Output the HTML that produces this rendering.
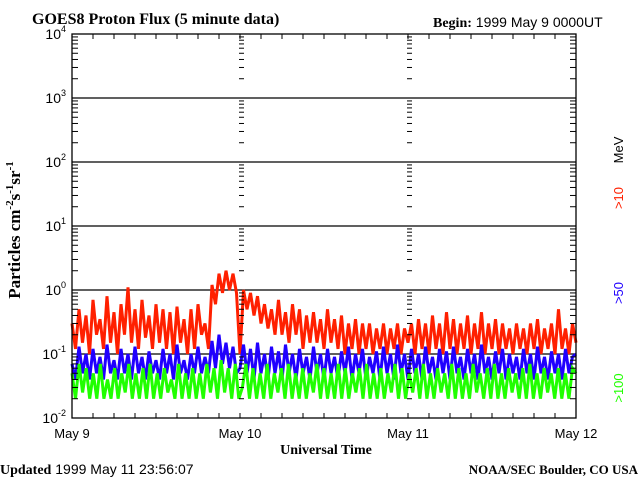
<!DOCTYPE html>
<html><head><meta charset="utf-8"><style>
body{margin:0;background:#fff;width:640px;height:480px;overflow:hidden}
svg{display:block}
.s{font-family:"Liberation Sans",sans-serif}
.r{font-family:"Liberation Serif",serif;font-weight:bold}
</style></head><body>
<svg id="c" width="640" height="480">
<text x="32" y="24" class="r" font-size="16">GOES8 Proton Flux (5 minute data)</text>
<text x="433" y="27" font-size="14"><tspan class="r">Begin:</tspan><tspan class="s"> 1999 May 9 0000UT</tspan></text>
<text x="0" y="474" font-size="14"><tspan class="r">Updated</tspan><tspan class="s"> 1999 May 11 23:56:07</tspan></text>
<text x="638" y="474" text-anchor="end" class="r" font-size="13">NOAA/SEC Boulder, CO USA</text>
<text x="326" y="454" text-anchor="middle" class="r" font-size="14">Universal Time</text>
<text transform="translate(20,230) rotate(-90)" text-anchor="middle" class="r" font-size="17">Particles cm<tspan dy="-7" font-size="11">-2</tspan><tspan dy="7">s</tspan><tspan dy="-7" font-size="11">-1</tspan><tspan dy="7">sr</tspan><tspan dy="-7" font-size="11">-1</tspan></text>
<g class="s" font-size="13">
<text transform="translate(623,150) rotate(-90)" text-anchor="middle" fill="#000">MeV</text>
<text transform="translate(623,198) rotate(-90)" text-anchor="middle" fill="#ff2000">&gt;10</text>
<text transform="translate(623,293) rotate(-90)" text-anchor="middle" fill="#2000ff">&gt;50</text>
<text transform="translate(623,388) rotate(-90)" text-anchor="middle" fill="#20ff00">&gt;100</text>
</g>
<g id="axes"></g>
<g id="series"></g>
<g id="frame"></g>
</svg>
<script>
const dayLabels=["May 9","May 10","May 11","May 12"];
const decadeExps=[-2,-1,0,1,2,3,4];
const red=[0.3,0.12,0.5,0.15,0.4,0.1,0.7,0.2,0.35,0.12,0.8,0.15,0.45,0.1,0.6,0.2,1.1,0.15,0.5,0.12,0.7,0.18,0.4,0.12,0.6,0.15,0.5,0.12,0.45,0.1,0.55,0.15,0.35,0.1,0.5,0.12,0.6,0.2,0.3,0.12,1.2,0.6,1.8,0.9,2.0,1.0,1.8,0.9,
0.1,1.0,0.5,0.9,0.4,0.8,0.3,0.6,0.25,0.5,0.2,0.7,0.2,0.45,0.15,0.6,0.2,0.5,0.12,0.4,0.15,0.45,0.15,0.35,0.12,0.5,0.15,0.35,0.12,0.4,0.1,0.3,0.12,0.35,0.1,0.3,0.12,0.3,0.1,0.25,0.12,0.3,0.1,0.25,0.12,0.3,0.1,0.25,
0.15,0.3,0.1,0.35,0.12,0.3,0.1,0.4,0.12,0.3,0.1,0.45,0.12,0.35,0.1,0.3,0.12,0.4,0.1,0.3,0.12,0.45,0.1,0.3,0.12,0.35,0.1,0.3,0.12,0.25,0.1,0.3,0.12,0.25,0.1,0.3,0.12,0.35,0.1,0.25,0.12,0.3,0.1,0.5,0.12,0.25,0.1,0.3,0.15];
const blue=[0.07,0.04,0.13,0.05,0.1,0.04,0.12,0.05,0.09,0.04,0.14,0.05,0.08,0.04,0.12,0.05,0.1,0.04,0.13,0.05,0.09,0.04,0.11,0.05,0.08,0.04,0.12,0.05,0.1,0.04,0.14,0.05,0.08,0.04,0.1,0.05,0.13,0.05,0.09,0.05,0.16,0.06,0.2,0.07,0.15,0.06,0.13,0.05,
0.06,0.14,0.05,0.12,0.04,0.15,0.05,0.1,0.04,0.13,0.05,0.11,0.04,0.14,0.05,0.1,0.04,0.12,0.05,0.09,0.04,0.13,0.05,0.1,0.04,0.12,0.05,0.09,0.04,0.11,0.05,0.13,0.04,0.1,0.05,0.12,0.04,0.09,0.05,0.11,0.04,0.13,0.05,0.1,0.04,0.14,0.05,0.1,
0.04,0.12,0.05,0.1,0.04,0.13,0.05,0.09,0.04,0.12,0.05,0.11,0.04,0.13,0.05,0.09,0.04,0.12,0.05,0.1,0.04,0.14,0.05,0.09,0.04,0.11,0.05,0.12,0.04,0.1,0.05,0.09,0.04,0.12,0.05,0.1,0.04,0.13,0.05,0.09,0.04,0.11,0.05,0.1,0.04,0.12,0.05,0.09,0.1];
const green=[0.05,0.02,0.07,0.025,0.06,0.02,0.05,0.02,0.07,0.02,0.04,0.02,0.06,0.02,0.05,0.025,0.07,0.02,0.05,0.02,0.06,0.02,0.07,0.02,0.05,0.02,0.06,0.025,0.04,0.02,0.07,0.02,0.05,0.02,0.06,0.02,0.05,0.02,0.07,0.025,0.06,0.02,0.08,0.025,0.06,0.02,0.07,0.02,
0.03,0.07,0.02,0.06,0.02,0.05,0.02,0.07,0.02,0.05,0.025,0.06,0.02,0.07,0.02,0.05,0.02,0.06,0.02,0.05,0.025,0.07,0.02,0.06,0.02,0.05,0.02,0.07,0.02,0.06,0.02,0.05,0.025,0.06,0.02,0.07,0.02,0.05,0.02,0.06,0.02,0.05,0.025,0.07,0.02,0.06,
0.02,0.05,0.025,0.06,0.02,0.07,0.02,0.05,0.02,0.06,0.025,0.05,0.02,0.07,0.02,0.06,0.02,0.05,0.02,0.07,0.025,0.05,0.02,0.06,0.02,0.07,0.02,0.05,0.02,0.06,0.025,0.05,0.02,0.06,0.02,0.07,0.02,0.05,0.02,0.06,0.025,0.05,0.02,0.06,0.02,0.05,0.02,0.06,0.05];
const NS="http://www.w3.org/2000/svg";
const X0=72,X1=576,Y0=34,Y1=418;
const xs=h=>X0+(X1-X0)*h/72;
const ys=v=>Y1-(Math.log10(v)+2)*(Y1-Y0)/6;
function mk(tag,at,parent){const e=document.createElementNS(NS,tag);for(const k in at)e.setAttribute(k,at[k]);parent.appendChild(e);return e;}
const axes=document.getElementById('axes'),ser=document.getElementById('series'),fr=document.getElementById('frame');
decadeExps.forEach(p=>{const y=ys(Math.pow(10,p));
 if(p>-2&&p<4){const l=mk('line',{x1:X0,x2:X1,y1:y,y2:y,stroke:'#000','stroke-width':1.3},axes);
 
 }
 const t=mk('text',{x:X0-6,y:y+5,'text-anchor':'end','font-size':14,class:'s'},axes);
 
 
 t.textContent='10';const s=document.createElementNS(NS,'tspan');s.setAttribute('dy','-7');s.setAttribute('font-size','9');s.textContent=String(p);t.appendChild(s);
 if(p<4){for(let m=2;m<10;m++){const ym=ys(m*Math.pow(10,p));
  mk('line',{x1:X0,x2:X0+6,y1:ym,y2:ym,stroke:'#000'},fr);
  mk('line',{x1:X1-6,x2:X1,y1:ym,y2:ym,stroke:'#000'},fr);
  [xs(24),xs(48)].forEach(xx=>mk('line',{x1:xx-1,x2:xx+4,y1:ym,y2:ym,stroke:'#000'},fr));}}
});
for(let h=0;h<=72;h+=3){const x=xs(h);mk('line',{x1:x,x2:x,y1:Y0,y2:Y0+5,stroke:'#000'},fr);mk('line',{x1:x,x2:x,y1:Y1-5,y2:Y1,stroke:'#000'},fr);}
dayLabels.forEach((d,i)=>{const t=mk('text',{x:xs(i*24),y:438,'text-anchor':'middle','font-size':13,class:'s'},axes);
 
 
 t.textContent=d;});
function draw(arr,col,name){const n=arr.length-1;
 const pts=arr.map((v,i)=>xs(72*i/n).toFixed(1)+','+ys(v).toFixed(1)).join(' ');
 const p=mk('polyline',{points:pts,fill:'none',stroke:col,'stroke-width':3,'stroke-linejoin':'miter'},ser);
 
 }
draw(red,'#ff2000','series-10mev');
draw(blue,'#2000ff','series-50mev');
draw(green,'#20ff00','series-100mev');
const b=mk('rect',{x:X0,y:Y0,width:X1-X0,height:Y1-Y0,fill:'none',stroke:'#000','stroke-width':1.3},fr);


</script>
</body></html>
